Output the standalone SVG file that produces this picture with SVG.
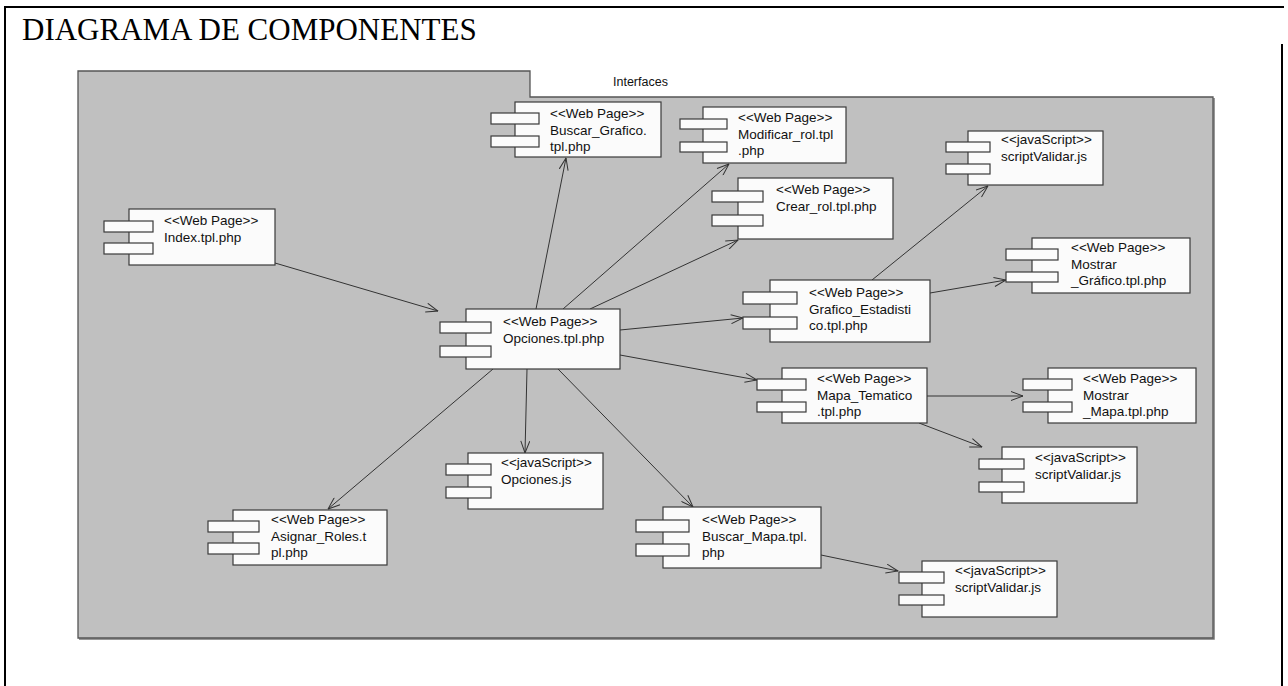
<svg xmlns="http://www.w3.org/2000/svg" width="1288" height="686" viewBox="0 0 1288 686">
  <style>
    .frame { stroke: #000; stroke-width: 2; fill: none; }
    .title { font-family: "Liberation Serif", "Times New Roman", serif; font-size: 31px; fill: #000; }
    .pkg { fill: #c0c0c0; stroke: #555; stroke-width: 1.3; }
    .pkg-shadow { fill: none; stroke: #777; stroke-width: 1.5; }
    .pkg-label { font-family: "Liberation Sans", Arial, sans-serif; font-size: 12.5px; fill: #111; }
    .body { fill: #fbfbfb; stroke: #3a3a3a; stroke-width: 1.2; }
    .port { fill: #fbfbfb; stroke: #3a3a3a; stroke-width: 1.2; }
    .lbl { font-family: "Liberation Sans", Arial, sans-serif; font-size: 13.5px; fill: #111; }
    .dep { stroke: #333; stroke-width: 1; fill: none; marker-end: url(#open); }
  </style>
  <defs>
    <marker id="open" viewBox="0 0 13 10" refX="12.5" refY="5" markerWidth="13" markerHeight="10" markerUnits="userSpaceOnUse" orient="auto">
      <path d="M0.5,0.5 L12.5,5 L0.5,9.5" fill="none" stroke="#333" stroke-width="1"/>
    </marker>
  </defs>

  <rect width="1288" height="686" fill="#fff"/>

  <!-- page frame and heading -->
  <g id="frame">
    <path class="frame" d="M5,686 V7 H1284"/>
    <path class="frame" d="M1282,44 V686"/>
    <text class="title" x="22" y="40">DIAGRAMA DE COMPONENTES</text>
  </g>

  <!-- package -->
  <g id="pkg-interfaces">
    <path class="pkg-shadow" d="M1214,98 V639 H79"/>
    <path class="pkg" d="M78,71 H530 V97 H1213 V638 H78 Z"/>
    <text class="pkg-label" x="613" y="86">Interfaces</text>
  </g>

  <!-- dependencies -->
  <g id="connectors">
    <line class="dep" x1="275" y1="263" x2="438" y2="311"/>
    <line class="dep" x1="536" y1="309" x2="566" y2="158"/>
    <line class="dep" x1="563" y1="309" x2="729" y2="164"/>
    <line class="dep" x1="590" y1="309" x2="738" y2="240"/>
    <line class="dep" x1="620" y1="330" x2="743" y2="318"/>
    <line class="dep" x1="620" y1="355" x2="757" y2="380"/>
    <line class="dep" x1="493" y1="369" x2="328" y2="509"/>
    <line class="dep" x1="527" y1="369" x2="525" y2="453"/>
    <line class="dep" x1="558" y1="369" x2="693" y2="507"/>
    <line class="dep" x1="872" y1="280" x2="988" y2="186"/>
    <line class="dep" x1="930" y1="293" x2="1006" y2="280"/>
    <line class="dep" x1="927" y1="396" x2="1023" y2="396"/>
    <line class="dep" x1="919" y1="423" x2="982" y2="447"/>
    <line class="dep" x1="821" y1="555" x2="898" y2="571"/>
  </g>

  <!-- components -->
  <g id="index">
    <rect class="body" x="129" y="209" width="146" height="56"/>
    <rect class="port" x="104" y="221" width="49" height="11"/>
    <rect class="port" x="104" y="243" width="49" height="11"/>
    <text class="lbl" x="164" y="225"><tspan x="164">&lt;&lt;Web Page&gt;&gt;</tspan><tspan x="164" dy="16.5">Index.tpl.php</tspan></text>
  </g>

  <g id="opciones">
    <rect class="body" x="466" y="309" width="154" height="60"/>
    <rect class="port" x="440" y="322" width="51" height="11"/>
    <rect class="port" x="440" y="346" width="51" height="11"/>
    <text class="lbl" x="503" y="326"><tspan x="503">&lt;&lt;Web Page&gt;&gt;</tspan><tspan x="503" dy="16.5">Opciones.tpl.php</tspan></text>
  </g>

  <g id="buscar-grafico">
    <rect class="body" x="515" y="102" width="146" height="55"/>
    <rect class="port" x="491" y="113" width="48" height="11"/>
    <rect class="port" x="491" y="136" width="48" height="11"/>
    <text class="lbl" x="550" y="118"><tspan x="550">&lt;&lt;Web Page&gt;&gt;</tspan><tspan x="550" dy="16.5">Buscar_Grafico.</tspan><tspan x="550" dy="16.5">tpl.php</tspan></text>
  </g>

  <g id="modificar-rol">
    <rect class="body" x="703" y="107" width="143" height="56"/>
    <rect class="port" x="680" y="119" width="47" height="10"/>
    <rect class="port" x="680" y="142" width="47" height="10"/>
    <text class="lbl" x="738" y="122"><tspan x="738">&lt;&lt;Web Page&gt;&gt;</tspan><tspan x="738" dy="16.5">Modificar_rol.tpl</tspan><tspan x="738" dy="16.5">.php</tspan></text>
  </g>

  <g id="crear-rol">
    <rect class="body" x="738" y="178" width="155" height="61"/>
    <rect class="port" x="712" y="191" width="51" height="11"/>
    <rect class="port" x="712" y="215" width="51" height="11"/>
    <text class="lbl" x="776" y="194"><tspan x="776">&lt;&lt;Web Page&gt;&gt;</tspan><tspan x="776" dy="16.5">Crear_rol.tpl.php</tspan></text>
  </g>

  <g id="script-validar-1">
    <rect class="body" x="968" y="131" width="135" height="54"/>
    <rect class="port" x="946" y="142" width="44" height="10"/>
    <rect class="port" x="946" y="164" width="44" height="10"/>
    <text class="lbl" x="1001" y="144"><tspan x="1001">&lt;&lt;javaScript&gt;&gt;</tspan><tspan x="1001" dy="16.5">scriptValidar.js</tspan></text>
  </g>

  <g id="mostrar-grafico">
    <rect class="body" x="1032" y="238" width="158" height="55"/>
    <rect class="port" x="1006" y="249" width="52" height="11"/>
    <rect class="port" x="1006" y="272" width="52" height="10"/>
    <text class="lbl" x="1071" y="252"><tspan x="1071">&lt;&lt;Web Page&gt;&gt;</tspan><tspan x="1071" dy="16.5">Mostrar</tspan><tspan x="1071" dy="16.5">_Gráfico.tpl.php</tspan></text>
  </g>

  <g id="grafico-estadistico">
    <rect class="body" x="770" y="280" width="160" height="62"/>
    <rect class="port" x="743" y="292" width="54" height="12"/>
    <rect class="port" x="743" y="317" width="54" height="12"/>
    <text class="lbl" x="809" y="297"><tspan x="809">&lt;&lt;Web Page&gt;&gt;</tspan><tspan x="809" dy="16.5">Grafico_Estadisti</tspan><tspan x="809" dy="16.5">co.tpl.php</tspan></text>
  </g>

  <g id="mapa-tematico">
    <rect class="body" x="782" y="368" width="145" height="55"/>
    <rect class="port" x="757" y="379" width="49" height="11"/>
    <rect class="port" x="757" y="402" width="49" height="10"/>
    <text class="lbl" x="817" y="383"><tspan x="817">&lt;&lt;Web Page&gt;&gt;</tspan><tspan x="817" dy="16.5">Mapa_Tematico</tspan><tspan x="817" dy="16.5">.tpl.php</tspan></text>
  </g>

  <g id="mostrar-mapa">
    <rect class="body" x="1048" y="368" width="148" height="55"/>
    <rect class="port" x="1023" y="379" width="49" height="11"/>
    <rect class="port" x="1023" y="402" width="49" height="10"/>
    <text class="lbl" x="1083" y="383"><tspan x="1083">&lt;&lt;Web Page&gt;&gt;</tspan><tspan x="1083" dy="16.5">Mostrar</tspan><tspan x="1083" dy="16.5">_Mapa.tpl.php</tspan></text>
  </g>

  <g id="script-validar-2">
    <rect class="body" x="1002" y="447" width="135" height="56"/>
    <rect class="port" x="979" y="459" width="45" height="10"/>
    <rect class="port" x="979" y="482" width="45" height="10"/>
    <text class="lbl" x="1035" y="462"><tspan x="1035">&lt;&lt;javaScript&gt;&gt;</tspan><tspan x="1035" dy="16.5">scriptValidar.js</tspan></text>
  </g>

  <g id="opciones-js">
    <rect class="body" x="468" y="453" width="135" height="56"/>
    <rect class="port" x="446" y="464" width="45" height="11"/>
    <rect class="port" x="446" y="487" width="45" height="11"/>
    <text class="lbl" x="501" y="467"><tspan x="501">&lt;&lt;javaScript&gt;&gt;</tspan><tspan x="501" dy="16.5">Opciones.js</tspan></text>
  </g>

  <g id="asignar-roles">
    <rect class="body" x="233" y="510" width="154" height="55"/>
    <rect class="port" x="208" y="521" width="51" height="11"/>
    <rect class="port" x="208" y="543" width="51" height="11"/>
    <text class="lbl" x="271" y="524"><tspan x="271">&lt;&lt;Web Page&gt;&gt;</tspan><tspan x="271" dy="16.5">Asignar_Roles.t</tspan><tspan x="271" dy="16.5">pl.php</tspan></text>
  </g>

  <g id="buscar-mapa">
    <rect class="body" x="663" y="507" width="158" height="61"/>
    <rect class="port" x="636" y="520" width="53" height="12"/>
    <rect class="port" x="636" y="544" width="53" height="12"/>
    <text class="lbl" x="702" y="524"><tspan x="702">&lt;&lt;Web Page&gt;&gt;</tspan><tspan x="702" dy="16.5">Buscar_Mapa.tpl.</tspan><tspan x="702" dy="16.5">php</tspan></text>
  </g>

  <g id="script-validar-3">
    <rect class="body" x="922" y="561" width="135" height="56"/>
    <rect class="port" x="899" y="572" width="45" height="11"/>
    <rect class="port" x="899" y="595" width="45" height="10"/>
    <text class="lbl" x="955" y="575"><tspan x="955">&lt;&lt;javaScript&gt;&gt;</tspan><tspan x="955" dy="16.5">scriptValidar.js</tspan></text>
  </g>
</svg>
